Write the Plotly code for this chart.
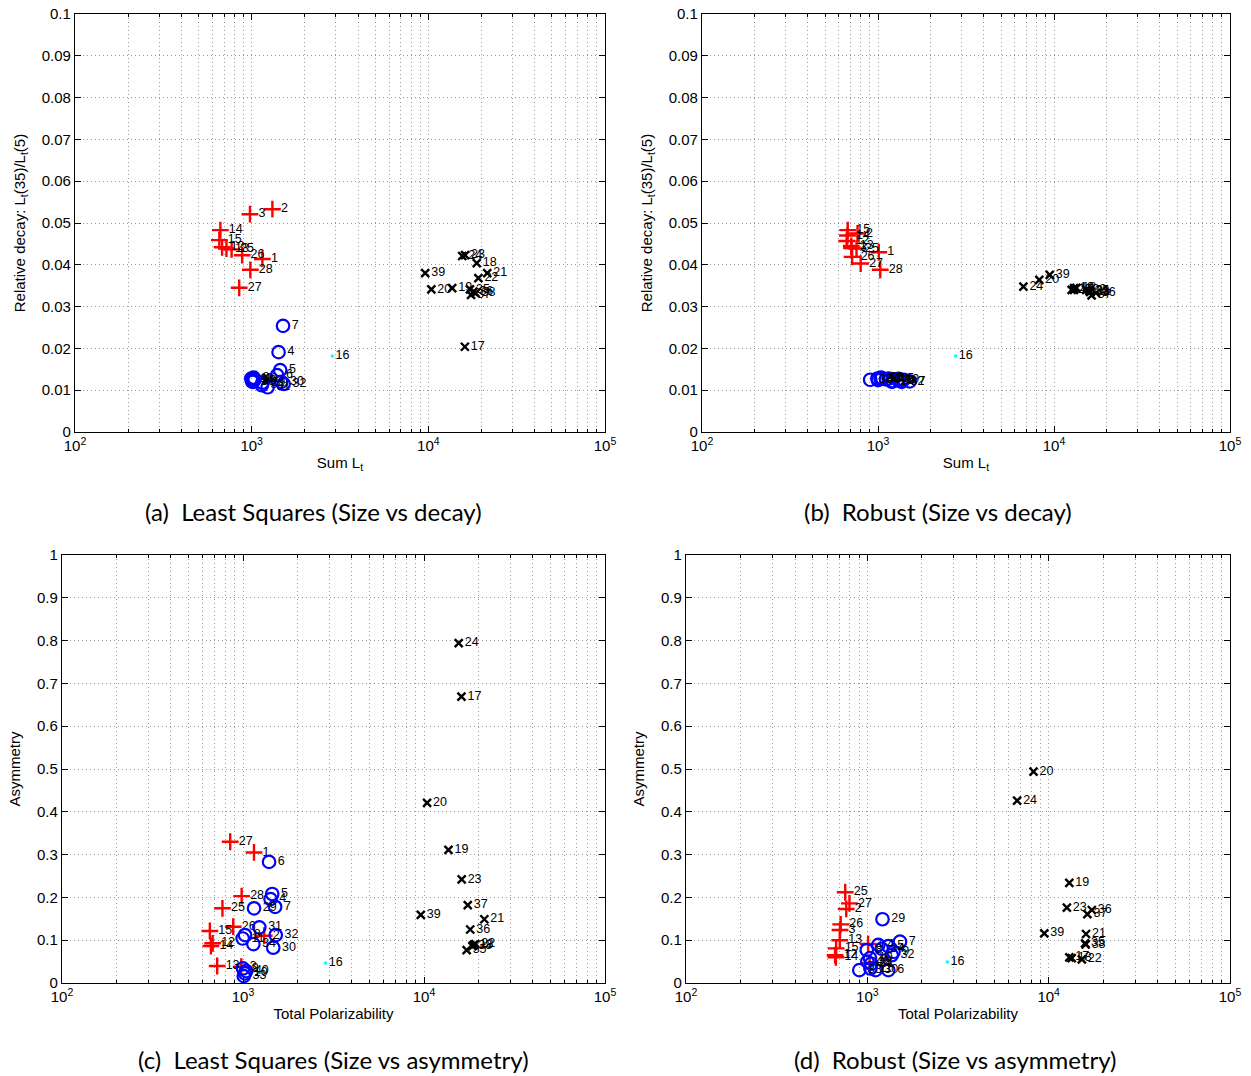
import plotly.graph_objects as go

# ---- data -------------------------------------------------------------
# group 1 (red +)
red_ids = [1, 2, 3, 12, 13, 14, 15, 25, 26, 27, 28]
red_sum_ls = [1150, 1310, 978, 680, 720, 665, 656, 770, 883, 850, 983]
red_decay_ls = [0.0414, 0.0533, 0.0521, 0.0442, 0.0439, 0.0483, 0.0459, 0.0437, 0.0423, 0.0345, 0.0388]
red_asym_ls = [0.305, 0.1105, 0.038, 0.0927, 0.0397, 0.0864, 0.1215, 0.1745, 0.1316, 0.330, 0.203]
red_sum_rb = [1010, 765, 707, 664, 705, 671, 673, 755, 713, 797, 1030]
red_decay_rb = [0.0430, 0.0475, 0.0440, 0.0457, 0.0445, 0.0470, 0.0483, 0.0439, 0.0419, 0.0403, 0.0388]
red_asym_rb = [0.091, 0.173, 0.124, 0.065, 0.100, 0.060, 0.081, 0.212, 0.137, 0.186, 0.046]

# group 2 (blue o)
blue_ids = [4, 5, 6, 7, 8, 9, 10, 11, 29, 30, 31, 32, 33, 34, 40]
blue_sum_ls = [1420, 1450, 1393, 1505, 1026, 1000, 1026, 996, 1151, 1469, 1231, 1517, 1010, 1141, 1040]
blue_decay_ls = [0.0191, 0.0148, 0.0136, 0.0254, 0.0130, 0.0125, 0.0122, 0.0128, 0.0118, 0.0120,
                 0.0107, 0.0115, 0.0120, 0.0112, 0.0126]
blue_asym_ls = [0.196, 0.208, 0.283, 0.178, 0.112, 0.034, 0.0227, 0.104, 0.1745, 0.0825,
                0.130, 0.112, 0.016, 0.091, 0.028]
blue_sum_rb = [1150, 1306, 1306, 1514, 993, 1395, 1035, 1040, 1212, 1110, 1050, 1363, 903, 1200, 1000]
blue_decay_rb = [0.0128, 0.0127, 0.0123, 0.0121, 0.0128, 0.0125, 0.0127, 0.0130, 0.0122, 0.0126,
                 0.0129, 0.0120, 0.0125, 0.0120, 0.0124]
blue_asym_rb = [0.089, 0.086, 0.030, 0.0965, 0.077, 0.073, 0.058, 0.034, 0.149, 0.030,
                0.045, 0.065, 0.030, 0.080, 0.050]

# group 3 (black x)
black_ids = [17, 18, 19, 20, 21, 22, 23, 24, 35, 36, 37, 38, 39]
black_sum_ls = [16100, 18800, 13650, 10400, 21550, 19200, 16150, 15550, 17200, 18000, 17450, 18500, 9600]
black_decay_ls = [0.0204, 0.0404, 0.0344, 0.0341, 0.0380, 0.0368, 0.0423, 0.0421, 0.0341, 0.0336,
                  0.0328, 0.0332, 0.0380]
black_asym_ls = [0.669, 0.089, 0.311, 0.421, 0.149, 0.091, 0.242, 0.794, 0.077, 0.125, 0.182, 0.086, 0.159]
black_sum_rb = [13000, 13400, 13000, 8250, 16070, 15240, 12600, 6700, 15880, 17300, 16350, 16000, 9460]
black_decay_rb = [0.0340, 0.0345, 0.0344, 0.0364, 0.0335, 0.0340, 0.0340, 0.0348, 0.0338, 0.0333,
                  0.0327, 0.0336, 0.0376]
black_asym_rb = [0.060, 0.058, 0.234, 0.494, 0.1145, 0.0554, 0.176, 0.426, 0.0927, 0.1706,
                 0.161, 0.090, 0.116]

# single outlier (cyan .)
cyan_ids = [16]
cyan_sum_ls = [2860]
cyan_decay_ls = [0.0182]
cyan_asym_ls = [0.047]
cyan_sum_rb = [2760]
cyan_decay_rb = [0.0182]
cyan_asym_rb = [0.049]

decade_ticks = [100, 1000, 10000, 100000]
decade_text = ["10<sup>2</sup>", "10<sup>3</sup>", "10<sup>4</sup>", "10<sup>5</sup>"]
decay_ticks = [0, 0.01, 0.02, 0.03, 0.04, 0.05, 0.06, 0.07, 0.08, 0.09, 0.1]
asym_ticks = [0, 0.1, 0.2, 0.3, 0.4, 0.5, 0.6, 0.7, 0.8, 0.9, 1]

captions = ["(a)  Least Squares (Size vs decay)", "(b)  Robust (Size vs decay)",
            "(c)  Least Squares (Size vs asymmetry)", "(d)  Robust (Size vs asymmetry)"]

# ---- layout geometry (pixels) ----------------------------------------
W, H = 1251, 1076
boxes = {  # left, right, top, bottom
    1: (75, 605, 14, 432),
    2: (702, 1230, 14, 432),
    3: (62, 605, 555, 983),
    4: (686, 1230, 555, 983),
}

fig = go.Figure()

styles = {
    "red": dict(symbol="cross-thin", size=12, color="red", line=dict(color="red", width=2.4)),
    "blue": dict(symbol="circle-open", size=12.5, color="blue", line=dict(color="blue", width=2.2)),
    "black": dict(symbol="x-thin", size=8, color="black", line=dict(color="black", width=2.4)),
    "cyan": dict(symbol="circle", size=3.5, color="cyan", line=dict(width=0)),
}

panels = {
    1: [("red", red_sum_ls, red_decay_ls, red_ids), ("blue", blue_sum_ls, blue_decay_ls, blue_ids),
        ("cyan", cyan_sum_ls, cyan_decay_ls, cyan_ids), ("black", black_sum_ls, black_decay_ls, black_ids)],
    2: [("red", red_sum_rb, red_decay_rb, red_ids), ("blue", blue_sum_rb, blue_decay_rb, blue_ids),
        ("cyan", cyan_sum_rb, cyan_decay_rb, cyan_ids), ("black", black_sum_rb, black_decay_rb, black_ids)],
    3: [("red", red_sum_ls, red_asym_ls, red_ids), ("blue", blue_sum_ls, blue_asym_ls, blue_ids),
        ("cyan", cyan_sum_ls, cyan_asym_ls, cyan_ids), ("black", black_sum_ls, black_asym_ls, black_ids)],
    4: [("red", red_sum_rb, red_asym_rb, red_ids), ("blue", blue_sum_rb, blue_asym_rb, blue_ids),
        ("cyan", cyan_sum_rb, cyan_asym_rb, cyan_ids), ("black", black_sum_rb, black_asym_rb, black_ids)],
}

for k, groups in panels.items():
    xa = "x" if k == 1 else f"x{k}"
    ya = "y" if k == 1 else f"y{k}"
    for name, xs, ys, ids in groups:
        fig.add_trace(go.Scatter(
            x=xs, y=ys, mode="markers+text", xaxis=xa, yaxis=ya,
            marker=styles[name], text=[str(i) for i in ids],
            textposition="middle right",
            textfont=dict(family="Liberation Sans", size=12.5, color="black"),
            showlegend=False, cliponaxis=False,
        ))

minor_vals = [m * 10 ** e for e in (2, 3, 4) for m in range(2, 10)]
grid_col = "#9a9a9a"
grid_dash = "1px,3px"
tick_font = dict(family="Liberation Sans", size=15, color="black")
lab_font = dict(family="Liberation Sans", size=15, color="black")

layout = dict(
    width=W, height=H, margin=dict(l=0, r=0, t=0, b=0),
    paper_bgcolor="white", plot_bgcolor="white", showlegend=False,
)

for k, (l, r, t, b) in boxes.items():
    xkey = "xaxis" if k == 1 else f"xaxis{k}"
    ykey = "yaxis" if k == 1 else f"yaxis{k}"
    ya = "y" if k == 1 else f"y{k}"
    xa = "x" if k == 1 else f"x{k}"
    xtitle = "Sum L<sub>t</sub>" if k <= 2 else "Total Polarizability"
    ytitle = "Relative decay: L<sub>t</sub>(35)/L<sub>t</sub>(5)" if k <= 2 else "Asymmetry"
    yt = decay_ticks if k <= 2 else asym_ticks
    layout[xkey] = dict(
        domain=[l / W, r / W], anchor=ya, type="log", range=[2, 5], automargin=False,
        tickvals=decade_ticks, ticktext=decade_text, tickfont=tick_font,
        ticks="inside", ticklen=6, tickcolor="black", mirror="ticks",
        showline=True, linecolor="black", linewidth=1.3,
        showgrid=True, gridcolor=grid_col, griddash=grid_dash, gridwidth=1,
        minor=dict(tickvals=minor_vals, ticks="inside", ticklen=3, tickcolor="black",
                   showgrid=True, gridcolor=grid_col, griddash=grid_dash, gridwidth=1),
        zeroline=False,
        title=dict(text=xtitle, font=lab_font, standoff=4),
    )
    layout[ykey] = dict(
        domain=[1 - b / H, 1 - t / H], anchor=xa, automargin=False,
        range=[yt[0], yt[-1]], tickvals=yt, ticktext=[("%g" % v) for v in yt],
        tickfont=tick_font, ticks="inside", ticklen=6, tickcolor="black", mirror="ticks",
        showline=True, linecolor="black", linewidth=1.3,
        showgrid=True, gridcolor=grid_col, griddash=grid_dash, gridwidth=1,
        zeroline=False,
        title=dict(text=ytitle, font=lab_font, standoff=12),
    )

fig.update_layout(**layout)

cap_pos = [(313, 511), (938, 511), (333, 1059), (955, 1059)]
for txt, (cx, cy) in zip(captions, cap_pos):
    fig.add_annotation(x=cx / W, y=1 - cy / H, xref="paper", yref="paper", text=txt,
                       showarrow=False, xanchor="center", yanchor="middle",
                       font=dict(family="Lato", size=24, color="black"))

fig.write_html("out.html")
